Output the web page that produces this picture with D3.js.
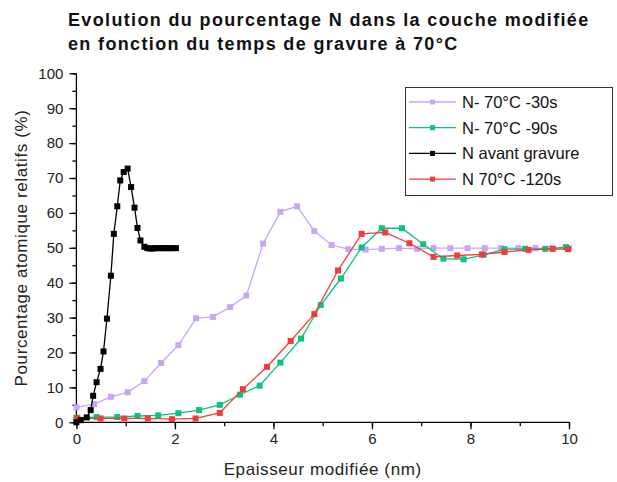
<!DOCTYPE html>
<html><head><meta charset="utf-8">
<script src="https://cdn.jsdelivr.net/npm/d3@7"></script>
<style>body{margin:0;background:#fff}svg{display:block}</style>
</head><body>
<svg id="c" width="617" height="482"></svg>
<script>
const avantX = [0.0,0.09,0.21,0.29,0.34,0.41,0.49,0.55,0.62,0.70,0.76,0.83,0.89,0.96,1.04,1.11,1.18,1.24,1.30,1.38,1.44,1.50,1.55,1.60,1.65,1.70,1.75,1.80,1.85,1.90,1.95,2.02];
const avantY = [0.0,0.6,1.4,3.5,7.6,11.5,15.3,20.3,29.7,42.0,54.0,61.9,69.3,71.7,72.7,67.4,61.5,55.7,52.1,50.3,49.9,49.8,49.8,49.9,49.9,49.9,49.9,49.9,49.9,49.9,49.9,49.9];
const s30X = [0.0,0.36,0.70,1.04,1.38,1.72,2.07,2.43,2.77,3.12,3.45,3.79,4.14,4.48,4.83,5.18,5.52,5.87,6.20,6.55,6.91,7.25,7.59,7.94,8.29,8.62,8.97,9.32,9.65,10.0];
const s30Y = [4.3,5.2,7.3,8.6,11.8,17.0,22.1,29.8,30.2,33.0,36.3,51.2,60.3,61.9,54.8,50.8,49.6,49.5,49.7,49.9,49.7,49.9,49.9,49.9,49.9,49.9,49.9,49.9,49.9,49.9];
const s90X = [0.0,0.41,0.83,1.24,1.66,2.07,2.49,2.91,3.32,3.72,4.14,4.56,4.96,5.37,5.79,6.20,6.61,7.04,7.45,7.86,8.27,8.69,9.11,9.52,9.94];
const s90Y = [1.3,1.5,1.5,1.8,2.0,2.6,3.5,5.0,7.9,10.5,17.1,24.0,33.6,41.2,50.1,55.6,55.6,51.0,46.9,46.7,48.0,49.6,49.7,49.7,50.2];
const s120X = [0.02,0.49,0.97,1.45,1.94,2.42,2.91,3.38,3.87,4.35,4.83,5.31,5.79,6.27,6.76,7.25,7.73,8.23,8.69,9.18,9.67,9.98];
const s120Y = [1.2,1.1,1.1,1.1,0.9,1.1,2.7,9.5,15.9,23.3,31.0,43.5,54.0,54.4,51.3,47.4,47.8,48.1,48.8,49.4,49.7,49.6];
const seriesNames = ["N- 70°C -30s","N- 70°C -90s","N avant gravure","N 70°C -120s"];
const xTicks = [0,2,4,6,8,10];
const yTicks = [0,10,20,30,40,50,60,70,80,90,100];
const titleLines = ["Evolution du pourcentage N dans la couche modifiée","en fonction du temps de gravure à 70°C"];

const series = [
  {name:seriesNames[0], xs:s30X, ys:s30Y, color:"#C8A6F4", sw:1.3},
  {name:seriesNames[1], xs:s90X, ys:s90Y, color:"#0CC27E", sw:1.3},
  {name:seriesNames[2], xs:avantX, ys:avantY, color:"#000000", sw:1.3},
  {name:seriesNames[3], xs:s120X, ys:s120Y, color:"#F23B3B", sw:1.3}
];
const drawOrder = [0,1,3,2];

const svg = d3.select("#c");
const font = "'Liberation Sans', Arial, sans-serif";
const x = d3.scaleLinear().domain([0,10]).range([76.4,569]);
const y = d3.scaleLinear().domain([0,100]).range([422.3,73.3]);

// title
svg.append("g").selectAll("text").data(titleLines).join("text")
  .attr("x",68).attr("y",(d,i)=>26+i*24)
  .attr("font-family",font).attr("font-weight","bold").attr("font-size",18)
  .attr("letter-spacing",1.35)
  .attr("fill","#111").text(d=>d);

// axes
const gx = svg.append("g").attr("transform",`translate(0,${y(0)})`);
gx.call(d3.axisBottom(x).tickValues(d3.range(0,11,1)).tickSize(4).tickFormat(""));
const gx2 = svg.append("g").attr("transform",`translate(0,${y(0)})`);
gx2.call(d3.axisBottom(x).tickValues(xTicks).tickSize(7).tickPadding(4).tickFormat(d3.format("d")));
const gy = svg.append("g").attr("transform",`translate(${x(0)},0)`);
gy.call(d3.axisLeft(y).tickValues(d3.range(0,101,5)).tickSize(4).tickFormat(""));
const gy2 = svg.append("g").attr("transform",`translate(${x(0)},0)`);
gy2.call(d3.axisLeft(y).tickValues(yTicks).tickSize(7).tickPadding(6).tickFormat(d3.format("d")));
[gx,gx2,gy,gy2].forEach(g=>{g.selectAll("path,line").attr("stroke","#000").attr("stroke-width",1.3);
  g.selectAll("text").attr("font-family",font).attr("font-size",15).attr("fill","#222");});
gx.select(".domain").remove();
gy.select(".domain").remove();
gx2.select(".domain").attr("d",`M${x(0)},0H${x(10)}`);
gy2.select(".domain").attr("d",`M0,${y(0)}V${y(100)}`);

// axis labels
svg.append("text").attr("x",(x(0)+x(10))/2).attr("y",475).attr("text-anchor","middle")
  .attr("font-family",font).attr("font-size",17).attr("letter-spacing",0.6).attr("fill","#222").text("Epaisseur modifiée (nm)");
svg.append("text").attr("transform",`translate(27,248) rotate(-90)`).attr("text-anchor","middle")
  .attr("font-family",font).attr("font-size",17).attr("letter-spacing",0.6).attr("fill","#222").text("Pourcentage atomique relatifs (%)");

// series
const line = d3.line().x(d=>x(d[0])).y(d=>y(d[1]));
drawOrder.forEach(i=>{
  const s = series[i];
  const pts = s.xs.map((v,k)=>[v,s.ys[k]]);
  const g = svg.append("g");
  g.append("path").datum(pts).attr("d",line).attr("fill","none").attr("stroke",s.color).attr("stroke-width",s.sw);
  g.selectAll("rect").data(pts).join("rect")
    .attr("x",d=>x(d[0])-3).attr("y",d=>y(d[1])-3).attr("width",6).attr("height",6)
    .attr("fill",s.color);
});

// legend
const lg = svg.append("g");
lg.append("rect").attr("x",405.5).attr("y",87.5).attr("width",207).attr("height",108)
  .attr("fill","#fff").attr("stroke","#333").attr("stroke-width",1);
series.forEach((s,i)=>{
  const yy = 102 + i*25.7;
  lg.append("line").attr("x1",409).attr("x2",456).attr("y1",yy).attr("y2",yy).attr("stroke",s.color).attr("stroke-width",1.3);
  lg.append("rect").attr("x",430).attr("y",yy-2.5).attr("width",5).attr("height",5).attr("fill",s.color);
  lg.append("text").attr("x",462).attr("y",yy+6).attr("font-family",font).attr("font-size",16.5).attr("fill","#111").text(s.name);
});
</script>
</body></html>
